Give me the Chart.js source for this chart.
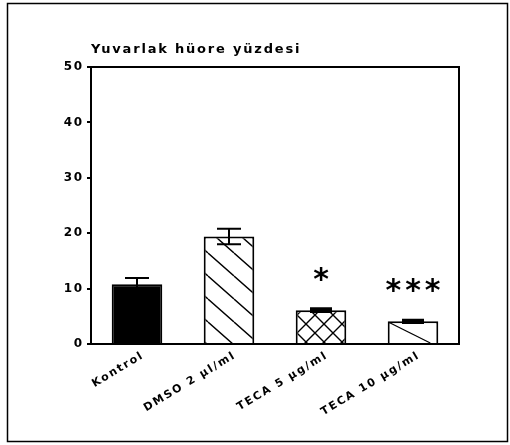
<!DOCTYPE html>
<html><head><meta charset="utf-8">
<script src="https://cdn.jsdelivr.net/npm/chart.js@4/dist/chart.umd.min.js"></script>
<style>html,body{margin:0;padding:0;background:#fff}canvas{display:block}</style>
</head><body>
<canvas id="c" width="510" height="445"></canvas>
<script>
const categories = ['Kontrol', 'DMSO 2 µl/ml', 'TECA 5 µg/ml', 'TECA 10 µg/ml'];
const means = [10.8, 19.4, 6.1, 4.1];
const sems = [1.1, 1.4, 0.25, 0.2];
const marks = ['', '', '*', '***'];
const yTicks = [0, 10, 20, 30, 40, 50];
const titleText = 'Yuvarlak hüore yüzdesi';

const FONT = '"DejaVu Sans", "Liberation Sans", sans-serif';
const LS = '1.8px';

function hatch(w, h, back, fwd) {
  const c = document.createElement('canvas');
  c.width = w; c.height = h;
  const x = c.getContext('2d');
  x.fillStyle = '#fff'; x.fillRect(0, 0, w, h);
  x.strokeStyle = '#000'; x.lineWidth = 1.4;
  x.beginPath();
  for (const n of [-1, 0, 1]) {
    if (back) { x.moveTo(0, n * h); x.lineTo(w, (n + 1) * h); }
    if (fwd) { x.moveTo(0, (n + 1) * h); x.lineTo(w, n * h); }
  }
  x.stroke();
  return x.createPattern(c, 'repeat');
}
const patDiag = hatch(26, 23, true, false);
const patCross = hatch(18, 18, true, true);

const decor = {
  id: 'decor',
  beforeUpdate(chart) { chart.ctx.letterSpacing = LS; },
  beforeDraw(chart) {
    const ctx = chart.ctx;
    ctx.save();
    ctx.fillStyle = '#fff';
    ctx.fillRect(0, 0, chart.width, chart.height);
    ctx.restore();
    ctx.letterSpacing = LS;
  },
  afterDatasetsDraw(chart) {
    const ctx = chart.ctx;
    const ys = chart.scales.y;
    const els = chart.getDatasetMeta(0).data;
    ctx.save();
    ctx.strokeStyle = '#000';
    ctx.fillStyle = '#000';
    // single diagonal stroke inside the last bar
    const e3 = els[3];
    ctx.lineWidth = 1.3;
    ctx.beginPath();
    ctx.moveTo(e3.x - e3.width / 2 + 1, e3.y + 1);
    ctx.lineTo(e3.x + e3.width / 2 - 8, e3.base);
    ctx.stroke();
    // error bars
    els.forEach((el, i) => {
      const top = ys.getPixelForValue(means[i] + sems[i]);
      const bot = ys.getPixelForValue(means[i] - sems[i]);
      const small = (bot - top) < 6;
      const hw = small ? 11 : 12;
      ctx.lineWidth = small ? 3 : 2;
      ctx.beginPath();
      ctx.moveTo(el.x, top); ctx.lineTo(el.x, bot);
      ctx.moveTo(el.x - hw, top); ctx.lineTo(el.x + hw, top);
      ctx.moveTo(el.x - hw, bot); ctx.lineTo(el.x + hw, bot);
      ctx.stroke();
    });
    // significance marks
    ctx.font = 'bold 30px ' + FONT;
    ctx.textAlign = 'center';
    ctx.textBaseline = 'middle';
    ctx.letterSpacing = '4px';
    els.forEach((el, i) => {
      if (!marks[i]) return;
      const top = ys.getPixelForValue(means[i] + sems[i]);
      ctx.fillText(marks[i], el.x + 2, top - 28);
    });
    ctx.restore();
  },
  afterDraw(chart) {
    const ctx = chart.ctx;
    const a = chart.chartArea;
    ctx.save();
    ctx.strokeStyle = '#000';
    ctx.lineWidth = 2;
    ctx.strokeRect(a.left, a.top, a.right - a.left, a.bottom - a.top);
    ctx.lineWidth = 1.5;
    ctx.strokeRect(7.5, 3.5, 500, 438);
    ctx.restore();
  }
};

new Chart(document.getElementById('c'), {
  type: 'bar',
  data: {
    labels: categories,
    datasets: [{
      data: means,
      backgroundColor: ['#000', patDiag, patCross, '#fff'],
      borderColor: '#000',
      borderWidth: 2,
      barPercentage: 0.55,
      categoryPercentage: 1
    }]
  },
  options: {
    responsive: false,
    animation: false,
    layout: { padding: { top: 36, left: 0, right: 51, bottom: 11 } },
    plugins: {
      legend: { display: false },
      tooltip: { enabled: false },
      title: {
        display: true, text: titleText, align: 'start', fullSize: false,
        color: '#000', font: { family: FONT, size: 13, weight: 'bold' },
        padding: { top: 6, bottom: 9.4 }
      }
    },
    scales: {
      x: {
        afterFit(s) { s.height = 90; },
        grid: { display: false, drawTicks: false },
        border: { display: true, color: '#000', width: 2 },
        ticks: {
          color: '#000', font: { family: FONT, size: 11, weight: 'bold' },
          minRotation: 31, maxRotation: 31, padding: 5, labelOffset: 6, autoSkip: false
        }
      },
      y: {
        min: yTicks[0], max: yTicks[yTicks.length - 1],
        afterFit(s) { s.width = 91; },
        afterBuildTicks(s) { s.ticks = yTicks.map(v => ({ value: v })); },
        grid: { drawOnChartArea: false, drawTicks: true, tickLength: 4, color: '#000', lineWidth: 2 },
        border: { display: true, color: '#000', width: 2 },
        ticks: { color: '#000', padding: 3, font: { family: FONT, size: 12, weight: 'bold' } }
      }
    }
  },
  plugins: [decor]
});
</script>
</body></html>
